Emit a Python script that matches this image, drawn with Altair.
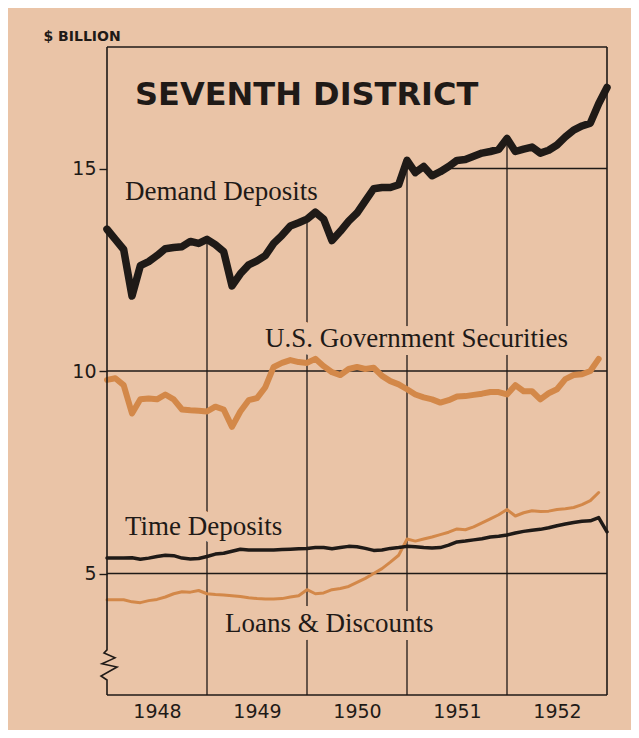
import altair as alt
import pandas as pd

# ---------------- data (monthly, Jan 1948 .. Jan 1953 = 61 points, $ billion) ----------------
demand = [13.50, 13.25, 13.00, 11.85, 12.60, 12.70, 12.85, 13.02, 13.05, 13.07, 13.20, 13.15,
          13.25, 13.12, 12.95, 12.10, 12.40, 12.62, 12.72, 12.85, 13.15, 13.35, 13.58, 13.66,
          13.75, 13.92, 13.75, 13.22, 13.45, 13.70, 13.90, 14.20, 14.50, 14.53, 14.53, 14.60,
          15.20, 14.90, 15.05, 14.82, 14.92, 15.05, 15.20, 15.22, 15.30, 15.38, 15.42, 15.47,
          15.74, 15.42, 15.48, 15.53, 15.38, 15.45, 15.58, 15.78, 15.95, 16.05, 16.12, 16.60,
          17.00]
gov_securities = [9.78, 9.82, 9.65, 8.95, 9.30, 9.32, 9.30, 9.42, 9.30, 9.05, 9.03, 9.02,
                  9.00, 9.12, 9.05, 8.62, 9.00, 9.28, 9.33, 9.60, 10.10, 10.20, 10.27, 10.22,
                  10.20, 10.30, 10.12, 9.97, 9.90, 10.05, 10.10, 10.05, 10.08, 9.88, 9.75, 9.67,
                  9.55, 9.42, 9.35, 9.30, 9.22, 9.28, 9.37, 9.38, 9.41, 9.44, 9.48, 9.48,
                  9.42, 9.65, 9.50, 9.50, 9.30, 9.45, 9.55, 9.80, 9.90, 9.92, 10.00, 10.30,
                  None]
time_deposits = [5.38, 5.38, 5.38, 5.39, 5.35, 5.38, 5.42, 5.45, 5.44, 5.38, 5.36, 5.37,
                 5.42, 5.48, 5.50, 5.55, 5.60, 5.58, 5.58, 5.58, 5.58, 5.59, 5.60, 5.61,
                 5.62, 5.64, 5.64, 5.61, 5.64, 5.67, 5.66, 5.62, 5.57, 5.58, 5.62, 5.64,
                 5.67, 5.66, 5.64, 5.63, 5.64, 5.70, 5.78, 5.80, 5.83, 5.86, 5.90, 5.92,
                 5.95, 6.00, 6.04, 6.07, 6.09, 6.13, 6.18, 6.22, 6.26, 6.29, 6.30, 6.38,
                 6.03]
loans = [4.35, 4.35, 4.35, 4.30, 4.28, 4.33, 4.36, 4.42, 4.50, 4.55, 4.54, 4.58,
         4.50, 4.48, 4.47, 4.45, 4.43, 4.40, 4.38, 4.37, 4.37, 4.38, 4.42, 4.45,
         4.60, 4.50, 4.52, 4.60, 4.63, 4.68, 4.78, 4.88, 5.00, 5.12, 5.28, 5.45,
         5.85, 5.80, 5.85, 5.90, 5.96, 6.02, 6.10, 6.08, 6.15, 6.25, 6.35, 6.45,
         6.58, 6.42, 6.50, 6.55, 6.53, 6.54, 6.58, 6.60, 6.63, 6.70, 6.80, 7.00,
         None]

year_labels = [1948, 1949, 1950, 1951, 1952]
year_bounds = [1949, 1950, 1951, 1952]
y_ticks = [5, 10, 15]

# series labels (anchor: left/baseline, in data units)
label_text = ["Demand Deposits", "U.S. Government Securities", "Time Deposits", "Loans & Discounts"]
label_t = [1948.18, 1949.58, 1948.18, 1949.18]
label_v = [14.22, 10.59, 5.96, 3.56]

title_text = ["SEVENTH DISTRICT"]
title_t = [1948.28]
title_v = [16.56]

# axis break symbol on the value axis (data units)
axis_line_t = [1948, 1948, 1947.97, 1948.08, 1947.95, 1948.10, 1947.94, 1948, 1948]
axis_line_v = [18, 3.115, 3.04, 2.917, 2.77, 2.69, 2.47, 2.37, 2.0]

# ---------------- styling ----------------
BG = "#eac4a7"
INK = "#1f1a17"
ORANGE = "#d38849"

t = [1948 + i / 12 for i in range(len(demand))]
df = pd.DataFrame({"t": t, "demand": demand, "gov": gov_securities,
                   "time": time_deposits, "loans": loans})

X_SCALE = alt.Scale(domain=[1948, 1953], nice=False, zero=False)
Y_SCALE = alt.Scale(domain=[2, 18], nice=False, zero=False)

x_axis = alt.Axis(values=[y + 0.5 for y in year_labels], labelExpr="floor(datum.value)",
                  ticks=False, domain=False, grid=False, labelFont="DejaVu Sans",
                  labelFontSize=19, labelColor=INK, labelPadding=7, title=None)
y_axis = alt.Axis(values=y_ticks, ticks=True, tickSize=8, tickWidth=1.4, tickColor=INK,
                  domain=False, grid=False, labelFont="DejaVu Sans", labelFontSize=19,
                  labelColor=INK, labelPadding=3, title="$ BILLION", titleAngle=0,
                  titleAlign="left", titleBaseline="alphabetic", titleX=-64, titleY=-7,
                  titleFont="DejaVu Sans", titleFontSize=14, titleFontWeight="bold",
                  titleColor=INK)

X = alt.X("t:Q", scale=X_SCALE, axis=x_axis)

# gridlines
hgrid = alt.Chart(pd.DataFrame({"v": y_ticks})).mark_rule(color=INK, strokeWidth=1.3).encode(
    y=alt.Y("v:Q", scale=Y_SCALE, axis=y_axis), x=alt.datum(1948), x2=alt.datum(1953))
vgrid = alt.Chart(pd.DataFrame({"t": year_bounds})).mark_rule(color=INK, strokeWidth=1.3).encode(
    x=alt.X("t:Q", scale=X_SCALE, axis=x_axis), y=alt.datum(2), y2=alt.datum(18))

# mask: grid is not drawn above the demand deposits curve
mask = alt.Chart(df).mark_area(fill=BG, opacity=1, interpolate="linear").encode(
    x=X, y=alt.Y("demand:Q", scale=Y_SCALE, axis=y_axis), y2=alt.datum(18))

labels_df = pd.DataFrame({"t": label_t, "v": label_v, "text": label_text})
halo = alt.Chart(labels_df).mark_text(font="Liberation Serif", fontSize=27, align="left",
                                      baseline="alphabetic", fill=BG, stroke=BG,
                                      strokeWidth=16, strokeJoin="round").encode(
    x=X, y=alt.Y("v:Q", scale=Y_SCALE, axis=y_axis), text="text:N")


def series_line(col, color, width):
    return alt.Chart(df).mark_line(color=color, strokeWidth=width, strokeJoin="round",
                                   strokeCap="round").encode(
        x=X, y=alt.Y(f"{col}:Q", scale=Y_SCALE, axis=y_axis))


l_demand = series_line("demand", INK, 7.5)
l_gov = series_line("gov", ORANGE, 6)
l_time = series_line("time", INK, 3.5)
l_loans = series_line("loans", ORANGE, 3)

# frame
frame_df = pd.DataFrame({"x": [1948, 1953, 1948], "x2": [1953, 1953, 1953],
                         "y": [18, 18, 2], "y2": [18, 2, 2]})
frame = alt.Chart(frame_df).mark_rule(color=INK, strokeWidth=1.6).encode(
    x=alt.X("x:Q", scale=X_SCALE, axis=x_axis), x2="x2:Q",
    y=alt.Y("y:Q", scale=Y_SCALE, axis=y_axis), y2="y2:Q")
axis_df = pd.DataFrame({"t": axis_line_t, "v": axis_line_v, "k": list(range(len(axis_line_t)))})
left_axis = alt.Chart(axis_df).mark_line(color=INK, strokeWidth=1.6, strokeJoin="miter").encode(
    x=X, y=alt.Y("v:Q", scale=Y_SCALE, axis=y_axis), order="k:Q")

labels = alt.Chart(labels_df).mark_text(font="Liberation Serif", fontSize=27, align="left",
                                        baseline="alphabetic", color=INK).encode(
    x=X, y=alt.Y("v:Q", scale=Y_SCALE, axis=y_axis), text="text:N")

title_df = pd.DataFrame({"t": title_t, "v": title_v, "text": title_text})
title = alt.Chart(title_df).mark_text(font="DejaVu Sans", fontSize=32, fontWeight="bold",
                                      align="left", baseline="alphabetic", color=INK).encode(
    x=X, y=alt.Y("v:Q", scale=Y_SCALE, axis=y_axis), text="text:N")

chart = alt.layer(hgrid, vgrid, mask, halo, l_loans, l_time, l_gov, l_demand,
                  frame, left_axis, labels, title).properties(
    width=500, height=648,
    background=BG,
    autosize=alt.AutoSizeParams(type="none"),
    padding={"left": 99, "top": 39, "right": 24, "bottom": 35},
).configure_view(stroke=None)

chart.save("out.html", embed_options={"renderer": "svg", "actions": False})
